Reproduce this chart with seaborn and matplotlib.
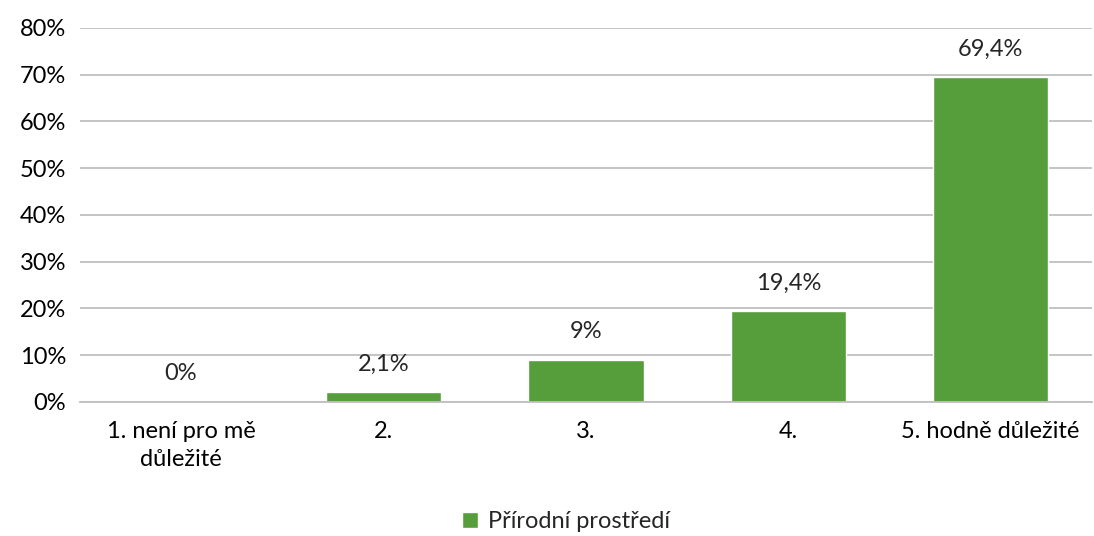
import matplotlib
matplotlib.use('Agg')
import matplotlib.pyplot as plt
import seaborn as sns
import pandas as pd

categories = ['1. není pro mě\ndůležité', '2.', '3.', '4.', '5. hodně důležité']
values = [0, 2.1, 9, 19.4, 69.4]
value_labels = ['0%', '2,1%', '9%', '19,4%', '69,4%']
series_name = 'Přírodní prostředí'

df = pd.DataFrame({'cat': categories, 'val': values})

sns.set_style('white')
plt.rcParams['font.family'] = ['Lato', 'DejaVu Sans']

fig = plt.figure(figsize=(10.94, 5.36), dpi=100)
ax = fig.add_axes([0.073, 0.25, 0.925, 0.698])

green = '#559E3B'
sns.barplot(data=df, x='cat', y='val', color=green, width=0.57, ax=ax,
            saturation=1, label=series_name)

ax.set_ylim(0, 80)
ax.set_yticks(range(0, 81, 10))
ax.set_yticklabels([f'{t}%' for t in range(0, 81, 10)])
ax.set_xticks(range(len(categories)))
ax.set_xticklabels(categories, linespacing=1.4)
ax.yaxis.grid(True, color='#BFBFBF', linewidth=1.3)
ax.set_axisbelow(True)
for s in ['left', 'right', 'top']:
    ax.spines[s].set_visible(False)
ax.spines['bottom'].set_color('#BFBFBF')
ax.spines['bottom'].set_linewidth(1.3)
ax.set_xlabel('')
ax.set_ylabel('')
ax.tick_params(axis='y', length=0, labelsize=17, colors='black', pad=10)
ax.tick_params(axis='x', length=0, labelsize=17, colors='black', pad=14)

for i, (v, lab) in enumerate(zip(values, value_labels)):
    ax.text(i, v + 3.8, lab, ha='center', va='bottom', fontsize=17)

ax.legend(loc='upper center', bbox_to_anchor=(0.48, -0.235), frameon=False,
          fontsize=17, handlelength=0.7, handleheight=0.7, handletextpad=0.4)

fig.savefig('out.png', dpi=100)
